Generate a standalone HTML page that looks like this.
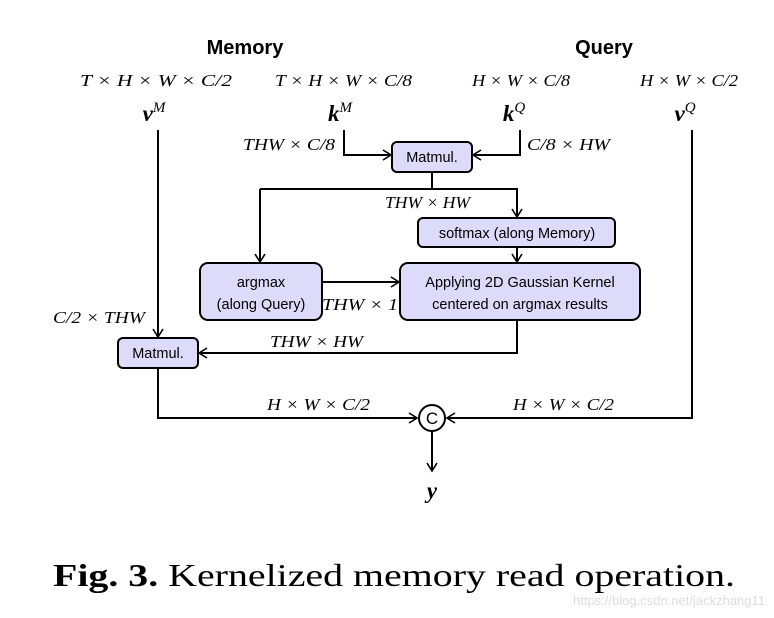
<!DOCTYPE html>
<html><head><style>
body{margin:0;background:#fff}
svg{display:block}
.m{font-family:"Liberation Serif",serif;font-style:italic;font-size:17px}
.b{font-family:"Liberation Sans",sans-serif;font-size:14.5px}
</style></head><body>
<svg width="774" height="618" viewBox="0 0 774 618" xmlns="http://www.w3.org/2000/svg">
<defs><marker id="a" markerWidth="12" markerHeight="12" refX="10" refY="6" orient="auto" markerUnits="userSpaceOnUse"><path d="M2,1 L10,6 L2,11" fill="none" stroke="#000" stroke-width="1.6"/></marker></defs>
<g font-family="Liberation Sans,sans-serif" font-weight="bold" font-size="20" text-anchor="middle">
<text x="245" y="54">Memory</text><text x="604" y="54">Query</text></g>
<g class="m" lengthAdjust="spacingAndGlyphs">
<text x="80" y="86" textLength="152" lengthAdjust="spacingAndGlyphs">T × H × W × C/2</text>
<text x="275" y="86" textLength="137" lengthAdjust="spacingAndGlyphs">T × H × W × C/8</text>
<text x="472" y="86" textLength="98" lengthAdjust="spacingAndGlyphs">H × W × C/8</text>
<text x="640" y="86" textLength="98" lengthAdjust="spacingAndGlyphs">H × W × C/2</text>
</g>
<g font-family="Liberation Serif,serif" font-style="italic" font-weight="bold" font-size="23" text-anchor="middle">
<text x="154" y="121">v<tspan font-size="15" dy="-9" font-weight="normal">M</tspan></text>
<text x="340" y="121">k<tspan font-size="15" dy="-9" font-weight="normal">M</tspan></text>
<text x="514" y="121">k<tspan font-size="15" dy="-9" font-weight="normal">Q</tspan></text>
<text x="685" y="121">v<tspan font-size="15" dy="-9" font-weight="normal">Q</tspan></text>
<text x="432" y="498">y</text>
</g>
<g stroke="#000" stroke-width="2" fill="none">
<path d="M344,130 V155 H391" marker-end="url(#a)"/>
<path d="M520,130 V155 H473" marker-end="url(#a)"/>
<path d="M432,172 V189"/>
<path d="M260,189 H517 V217" marker-end="url(#a)"/>
<path d="M260,189 V262" marker-end="url(#a)"/>
<path d="M517,247 V262" marker-end="url(#a)"/>
<path d="M322,282 H399" marker-end="url(#a)"/>
<path d="M158,130 V337" marker-end="url(#a)"/>
<path d="M517,320 V353 H199" marker-end="url(#a)"/>
<path d="M158,368 V418 H417" marker-end="url(#a)"/>
<path d="M692,130 V418 H447" marker-end="url(#a)"/>
<path d="M432,432 V471" marker-end="url(#a)"/>
</g>
<g fill="#dcdcfa" stroke="#000" stroke-width="2">
<rect x="392" y="142" width="80" height="30" rx="5"/>
<rect x="418" y="218" width="197" height="29" rx="5"/>
<rect x="200" y="263" width="122" height="57" rx="8"/>
<rect x="400" y="263" width="240" height="57" rx="8"/>
<rect x="118" y="338" width="80" height="30" rx="5"/>
</g>
<circle cx="432" cy="418" r="13" fill="#fff" stroke="#000" stroke-width="2"/>
<text x="432" y="424" text-anchor="middle" font-family="Liberation Sans,sans-serif" font-size="17">C</text>
<g class="b" text-anchor="middle">
<text x="432" y="162">Matmul.</text>
<text x="517" y="238">softmax (along Memory)</text>
<text x="261" y="287">argmax</text>
<text x="261" y="309">(along Query)</text>
<text x="520" y="287">Applying 2D Gaussian Kernel</text>
<text x="520" y="309">centered on argmax results</text>
<text x="158" y="358">Matmul.</text>
</g>
<g class="m">
<text x="243" y="150" textLength="92" lengthAdjust="spacingAndGlyphs">THW × C/8</text>
<text x="527" y="150" textLength="83" lengthAdjust="spacingAndGlyphs">C/8 × HW</text>
<text x="385" y="208" textLength="85" lengthAdjust="spacingAndGlyphs">THW × HW</text>
<text x="322" y="310" textLength="76" lengthAdjust="spacingAndGlyphs">THW × 1</text>
<text x="53" y="323" textLength="92" lengthAdjust="spacingAndGlyphs">C/2 × THW</text>
<text x="270" y="347" textLength="93" lengthAdjust="spacingAndGlyphs">THW × HW</text>
<text x="267" y="410" textLength="103" lengthAdjust="spacingAndGlyphs">H × W × C/2</text>
<text x="513" y="410" textLength="101" lengthAdjust="spacingAndGlyphs">H × W × C/2</text>
</g>
<text x="53" y="586" font-family="Liberation Serif,serif" font-size="32" textLength="682" lengthAdjust="spacingAndGlyphs"><tspan font-weight="bold">Fig. 3.</tspan> Kernelized memory read operation.</text>
<text x="765" y="605" text-anchor="end" font-family="Liberation Sans,sans-serif" font-size="13" fill="#dcdcdc">https://blog.csdn.net/jackzhang11</text>
</svg>
</body></html>
